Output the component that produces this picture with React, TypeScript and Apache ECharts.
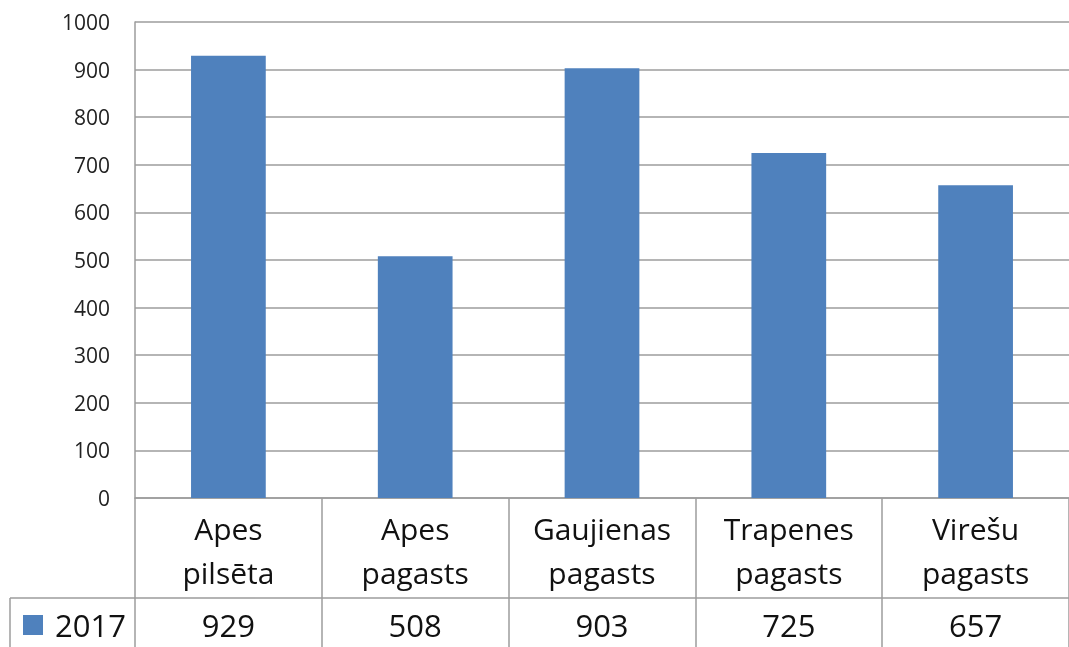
import React, { useEffect, useRef } from "react";
import * as echarts from "echarts";

const categories = ["Apes\npilsēta", "Apes\npagasts", "Gaujienas\npagasts", "Trapenes\npagasts", "Virešu\npagasts"];
const seriesName = "2017";
const values = [929, 508, 903, 725, 657];
const yTicks = { min: 0, max: 1000, interval: 100 };

const LINE = "#9c9c9c";
const FONT = "'Open Sans', sans-serif";

export default function App() {
  const ref = useRef<HTMLDivElement>(null);
  useEffect(() => {
    if (!ref.current) return;
    const chart = echarts.init(ref.current, null, { renderer: "svg" });
    chart.setOption({
      animation: false,
      grid: { left: 135, right: -7.5, top: 22, bottom: 149, containLabel: false },
      legend: {
        left: 23,
        top: 605,
        padding: 0,
        itemWidth: 20,
        itemHeight: 20,
        icon: "rect",
        data: [seriesName],
        textStyle: { fontFamily: FONT, fontSize: 31, lineHeight: 40, color: "#111", padding: [0, 0, 0, 7] },
      },
      xAxis: [
        {
          type: "category",
          data: categories,
          boundaryGap: true,
          axisLine: { show: true, lineStyle: { color: LINE, width: 1.5 } },
          axisTick: { show: true, interval: 0, length: 100, lineStyle: { color: LINE, width: 1.5 } },
          axisLabel: {
            interval: 0,
            margin: 8,
            fontFamily: FONT,
            fontSize: 30,
            lineHeight: 44,
            color: "#111",
          },
        },
        {
          type: "category",
          data: categories,
          position: "bottom",
          offset: 100,
          boundaryGap: true,
          axisLine: { show: true, lineStyle: { color: LINE, width: 1.5 } },
          axisTick: { show: true, interval: 0, length: 60, lineStyle: { color: LINE, width: 1.5 } },
          axisLabel: {
            interval: 0,
            margin: 7,
            fontFamily: FONT,
            fontSize: 31,
            lineHeight: 40,
            color: "#111",
            formatter: (_v: string, i: number) => String(values[i]),
          },
        },
      ],
      yAxis: {
        type: "value",
        min: yTicks.min,
        max: yTicks.max,
        interval: yTicks.interval,
        axisLine: { show: true, lineStyle: { color: LINE, width: 1.5 } },
        axisTick: { show: false },
        splitLine: { show: true, lineStyle: { color: LINE, width: 1.5 } },
        axisLabel: {
          margin: 25,
          fontFamily: FONT,
          fontSize: 21,
          color: "#222",
          formatter: (v: number) => String(v),
        },
      },
      series: [
        {
          name: seriesName,
          type: "bar",
          data: values,
          barCategoryGap: "60%",
          itemStyle: { color: "#4F81BD" },
        },
      ],
      graphic: [
        { type: "line", shape: { x1: 10, y1: 598, x2: 135, y2: 598 }, style: { stroke: LINE, lineWidth: 1.5 } },
        { type: "line", shape: { x1: 10, y1: 598, x2: 10, y2: 660 }, style: { stroke: LINE, lineWidth: 1.5 } },
      ],
    });
    return () => chart.dispose();
  }, []);
  return <div ref={ref} style={{ position: "fixed", left: 0, top: 0, width: 1069, height: 647 }} />;
}
